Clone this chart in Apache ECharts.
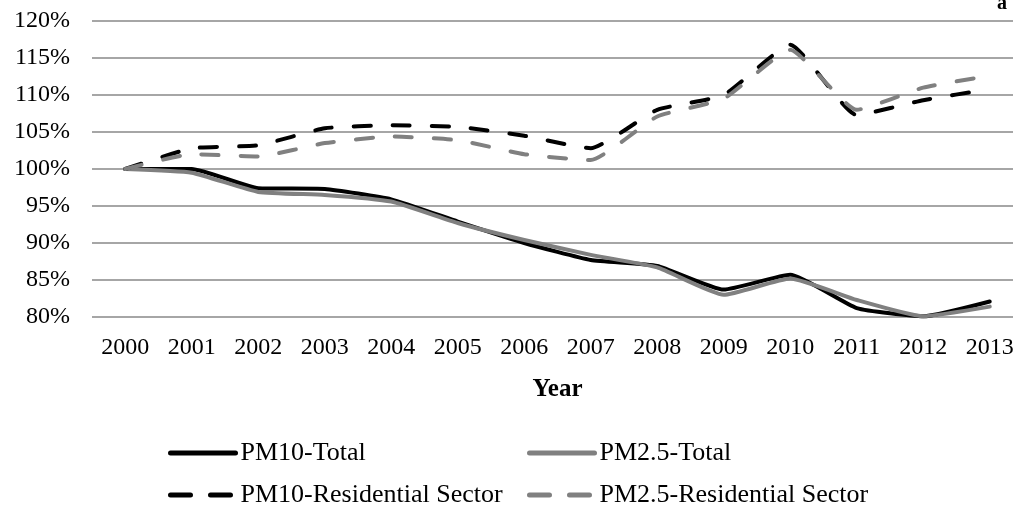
<!DOCTYPE html>
<html>
<head>
<meta charset="utf-8">
<title>PM emissions index</title>
<script src="https://cdn.jsdelivr.net/npm/echarts@6/dist/echarts.min.js"></script>
<style>
  html, body { margin: 0; padding: 0; background: #fff; }
  #chart { width: 1013px; height: 510px; }
</style>
</head>
<body>
<div id="chart"></div>
<script>
const years = ["2000", "2001", "2002", "2003", "2004", "2005", "2006",
  "2007", "2008", "2009", "2010", "2011", "2012", "2013"];

// values in percent of year 2000
const pm10Total = [100, 100.0, 97.4, 97.3, 95.9, 92.9, 90.0, 87.7, 86.9, 83.7, 85.7, 81.2, 80.1, 82.1];
const pm25Total = [100, 99.5, 96.9, 96.5, 95.6, 92.7, 90.4, 88.4, 86.7, 83.0, 85.2, 82.3, 80.1, 81.4];
const pm10Res = [100, 102.8, 103.2, 105.5, 105.9, 105.7, 104.5, 102.8, 108.0, 110.0, 116.8, 107.3, 109.3, 110.8];
const pm25Res = [100, 102.0, 101.7, 103.5, 104.4, 103.9, 102.0, 101.2, 107.1, 109.5, 116.1, 108.0, 111.0, 112.6];

const serif = "'Liberation Serif', 'DejaVu Serif', serif";

const chart = echarts.init(document.getElementById("chart"));

function makeLine(name, data, color, dashed) {
  return {
    name: name,
    type: "line",
    data: data,
    smooth: 0.15,
    showSymbol: false,
    symbol: "none",
    lineStyle: {
      color: color,
      width: 4,
      type: dashed ? [17, 22] : "solid",
      cap: "round",
      join: "round",
    },
    itemStyle: { color: color },
  };
}

// one legend per entry so the 2x2 layout sits where the reference has it
function makeLegend(name, left, top, color, dashed) {
  return {
    left: left,
    top: top,
    padding: 0,
    itemWidth: 65,
    itemHeight: 20,
    itemStyle: { opacity: 0 },
    lineStyle: {
      color: color,
      width: 5,
      type: dashed ? [20, 20] : "solid",
      cap: "round",
    },
    textStyle: {
      fontFamily: serif,
      fontSize: 26,
      color: "#000",
    },
    data: [name],
  };
}

const option = {
  animation: false,
  backgroundColor: "#fff",
  grid: {
    left: 92,
    right: -10,
    top: 21,
    bottom: 193,
    outerBoundsMode: "none",
  },
  xAxis: {
    type: "category",
    data: years,
    boundaryGap: true,
    name: "Year",
    nameLocation: "middle",
    nameGap: 60,
    nameTextStyle: {
      fontFamily: serif,
      fontWeight: "bold",
      fontSize: 25,
      color: "#000",
    },
    axisLine: { show: false },
    axisTick: { show: false },
    axisLabel: {
      fontFamily: serif,
      fontSize: 24,
      color: "#000",
      margin: 19,
      interval: 0,
    },
  },
  yAxis: {
    type: "value",
    min: 80,
    max: 120,
    interval: 5,
    axisLine: { show: false },
    axisTick: { show: false },
    axisLabel: {
      fontFamily: serif,
      fontSize: 24,
      color: "#000",
      margin: 22,
      formatter: "{value}%",
    },
    splitLine: {
      lineStyle: { color: "#a6a6a6", width: 2 },
    },
  },
  legend: [
    makeLegend("PM10-Total", 168, 440, "#000000", false),
    makeLegend("PM10-Residential Sector", 168, 482, "#000000", true),
    makeLegend("PM2.5-Total", 527, 440, "#808080", false),
    makeLegend("PM2.5-Residential Sector", 527, 482, "#808080", true),
  ],
  graphic: [
    {
      type: "text",
      right: 6,
      top: -6,
      style: {
        text: "a",
        font: "bold 20px " + serif,
        fill: "#000",
      },
    },
  ],
  series: [
    makeLine("PM10-Total", pm10Total, "#000000", false),
    makeLine("PM2.5-Total", pm25Total, "#808080", false),
    makeLine("PM10-Residential Sector", pm10Res, "#000000", true),
    makeLine("PM2.5-Residential Sector", pm25Res, "#808080", true),
  ],
};

chart.setOption(option);
</script>
</body>
</html>
